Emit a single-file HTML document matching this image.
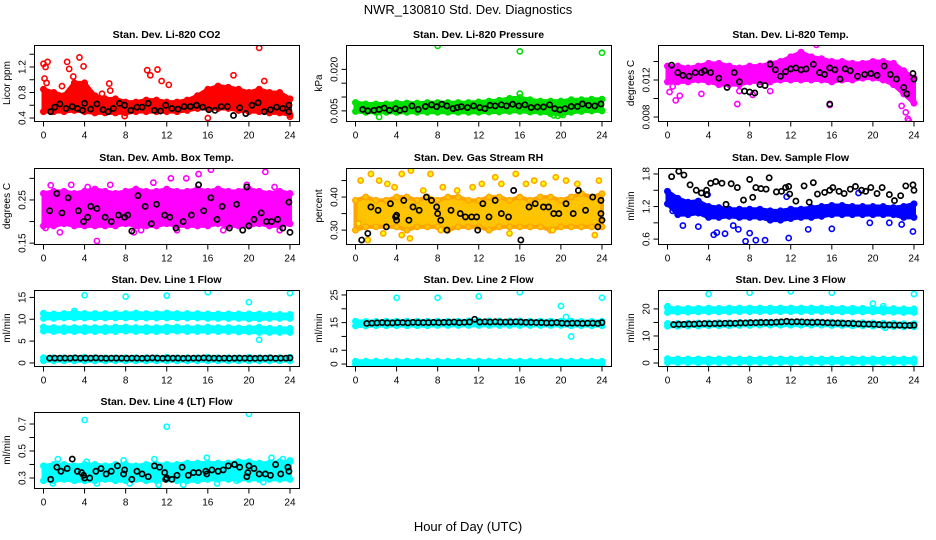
<!DOCTYPE html>
<html><head><meta charset="utf-8">
<style>
html,body{margin:0;padding:0;background:#fff;}
svg{display:block;font-family:"Liberation Sans",sans-serif;}
</style></head>
<body>
<svg id="chart" width="936" height="540" viewBox="0 0 936 540" xmlns="http://www.w3.org/2000/svg">
<rect width="936" height="540" fill="#fff"/>
<text x="468" y="14" text-anchor="middle" font-size="13">NWR_130810  Std. Dev. Diagnostics</text>
<text x="468" y="531" text-anchor="middle" font-size="13">Hour of Day (UTC)</text>
</svg>
<script>
// ---------- data ----------
const hours = [0,1,2,3,4,5,6,7,8,9,10,11,12,13,14,15,16,17,18,19,20,21,22,23,24];
const xTicks = [0,4,8,12,16,20,24];

// CO2
const co2Lo = [0.5,0.5,0.5,0.52,0.5,0.48,0.48,0.48,0.48,0.5,0.5,0.5,0.5,0.5,0.52,0.55,0.55,0.55,0.55,0.52,0.5,0.5,0.48,0.48,0.45];
const co2Hi = [0.85,0.8,0.75,0.95,0.95,0.75,0.7,0.7,0.65,0.65,0.68,0.68,0.65,0.65,0.68,0.75,0.85,0.9,0.88,0.85,0.8,0.85,0.8,0.8,0.7];
const co2Out = [[0,1.25],[0.2,1.2],[0.4,1.28],[0.1,1.02],[0.3,0.95],[2.3,1.28],[2.5,1.17],[3.5,1.35],[3.9,1.21],[2.9,1.05],[3.1,0.9],[5.7,0.78],[6.4,0.94],[6.5,0.83],[10.1,1.15],[10.4,1.07],[11.1,1.16],[11.5,0.98],[12.2,0.92],[18.5,1.07],[21,1.5],[21.5,0.98],[16,0.4],[24,0.42],[7.9,0.43],[1.8,0.9]];
const co2Black = [[0.7,0.5],[1.1,0.57],[1.6,0.62],[2.2,0.55],[2.8,0.58],[3.3,0.55],[3.8,0.52],[4,0.63],[4.6,0.54],[5.2,0.62],[5.8,0.53],[6.3,0.5],[6.8,0.55],[7.4,0.63],[7.9,0.6],[8.5,0.52],[9.1,0.57],[9.6,0.57],[10.2,0.63],[10.8,0.52],[11.4,0.51],[11.9,0.6],[12.5,0.55],[13.1,0.54],[13.7,0.58],[14.3,0.58],[14.9,0.6],[15.5,0.57],[16.1,0.53],[16.7,0.52],[17.3,0.58],[17.9,0.58],[18.5,0.44],[19.1,0.56],[19.7,0.47],[20.3,0.6],[20.9,0.64],[21.5,0.5],[22.1,0.53],[22.7,0.57],[23.3,0.55],[23.9,0.6],[23.9,0.5]];

// Pressure
const prLo = [0.0048,0.0045,0.0045,0.0045,0.0045,0.0045,0.0045,0.0045,0.0045,0.0045,0.0045,0.0045,0.0045,0.0046,0.0046,0.0048,0.0048,0.0046,0.0045,0.004,0.0038,0.0045,0.0048,0.005,0.005];
const prHi = [0.008,0.0075,0.0075,0.0075,0.0078,0.0078,0.0078,0.008,0.008,0.008,0.008,0.008,0.0082,0.0085,0.0088,0.0095,0.0098,0.009,0.0085,0.0085,0.0085,0.009,0.009,0.0092,0.0092];
const prOut = [[8,0.0285],[16,0.0265],[24,0.026],[16,0.0112],[2.3,0.0028],[19.7,0.0032],[19.3,0.0034],[20.2,0.0035]];
const prBlack = [[0.7,0.0055],[1.2,0.005],[1.8,0.0052],[2.3,0.0055],[2.8,0.006],[3.3,0.0052],[3.9,0.0058],[4.3,0.0052],[4.8,0.0056],[5.5,0.0068],[6.1,0.0055],[6.8,0.0066],[7.4,0.0072],[7.9,0.0065],[8.4,0.0074],[8.9,0.0068],[9.5,0.0058],[9.9,0.0062],[10.3,0.0065],[10.9,0.0062],[11.5,0.0068],[12.1,0.0062],[12.6,0.0058],[13.1,0.007],[13.6,0.0068],[14.2,0.0072],[14.7,0.0068],[15.3,0.0074],[15.9,0.0068],[16.5,0.0072],[17.1,0.0062],[17.7,0.0064],[18.3,0.0064],[18.9,0.0072],[19.4,0.0058],[19.9,0.0054],[20.4,0.0058],[21,0.0066],[21.6,0.0066],[22.1,0.0075],[22.7,0.007],[23.3,0.0068],[23.9,0.0075]];

// Li-820 Temp
const tpLo = [0.0118,0.0118,0.0118,0.012,0.0118,0.0115,0.0115,0.0115,0.0118,0.0118,0.0118,0.012,0.012,0.012,0.012,0.012,0.0118,0.012,0.012,0.0122,0.0122,0.012,0.0115,0.0105,0.0095];
const tpHi = [0.0135,0.0135,0.0133,0.0135,0.0138,0.0138,0.0135,0.0133,0.0135,0.0135,0.0138,0.014,0.0145,0.015,0.0145,0.0143,0.014,0.014,0.0138,0.0138,0.014,0.014,0.0138,0.013,0.0122];
const tpOut = [[0.2,0.0107],[0.8,0.0098],[1.2,0.0103],[0.5,0.0113],[3.3,0.0105],[6.8,0.0094],[8.3,0.0104],[15.8,0.0093],[23.2,0.0085],[23.4,0.0078],[23.5,0.0076],[22.8,0.0092],[14.5,0.0158],[7,0.0108],[10,0.0108],[23.8,0.0115]];
const tpBlack = [[0.4,0.0136],[1,0.0128],[1.5,0.0125],[2.1,0.0124],[2.7,0.0128],[3.3,0.0128],[3.6,0.013],[4.2,0.0128],[5,0.0122],[5.8,0.0112],[6.5,0.0128],[7,0.0118],[7.5,0.0108],[8,0.0107],[8.5,0.0106],[9,0.0115],[9.5,0.0114],[10,0.0137],[10.5,0.0131],[11,0.0124],[11.5,0.0129],[12,0.0132],[12.5,0.0133],[13,0.0131],[13.5,0.0132],[14.2,0.0137],[14.8,0.0128],[15.3,0.0126],[15.8,0.0133],[15.8,0.0094],[16.3,0.0131],[16.8,0.0121],[17.3,0.0132],[17.8,0.013],[18.5,0.0124],[19.2,0.0126],[19.8,0.0127],[20.4,0.0125],[21.1,0.0135],[21.7,0.0126],[22.3,0.0121],[23,0.0112],[23.3,0.0105],[23.9,0.0127],[24,0.0121]];

// Amb box temp
const abLo = [0.19,0.19,0.195,0.19,0.19,0.19,0.19,0.19,0.195,0.19,0.19,0.19,0.195,0.19,0.19,0.19,0.19,0.195,0.19,0.19,0.19,0.195,0.19,0.19,0.195];
const abHi = [0.265,0.27,0.27,0.265,0.27,0.275,0.27,0.265,0.27,0.275,0.27,0.27,0.275,0.27,0.27,0.275,0.27,0.275,0.27,0.27,0.275,0.27,0.265,0.27,0.265];
const abOut = [[0.7,0.284],[1.6,0.175],[2.7,0.285],[4.3,0.28],[5.2,0.155],[6.5,0.285],[8.8,0.175],[10.7,0.29],[12.4,0.3],[13.9,0.3],[15.1,0.31],[16.3,0.32],[19.8,0.285],[21.6,0.315],[22.5,0.28],[23,0.18],[0.2,0.185],[17.5,0.18],[9.5,0.18],[13,0.18]];
const abBlack = [[0.6,0.225],[1.3,0.265],[1.8,0.22],[2.4,0.255],[3.4,0.225],[3.9,0.2],[4.3,0.21],[4.6,0.235],[5.2,0.23],[6,0.21],[6.6,0.2],[7.3,0.215],[7.9,0.21],[8.2,0.215],[8.6,0.178],[9.2,0.26],[9.9,0.235],[10.5,0.195],[11,0.24],[11.8,0.215],[12.3,0.21],[12.9,0.185],[13.6,0.2],[14.4,0.215],[15.1,0.285],[15.6,0.225],[16.3,0.255],[16.9,0.205],[17.4,0.235],[18.1,0.185],[18.8,0.24],[19.4,0.18],[19.8,0.28],[20,0.19],[20.5,0.205],[21.2,0.22],[21.7,0.2],[22.2,0.2],[22.8,0.205],[23.3,0.185],[23.9,0.245],[24,0.175]];

// Gas stream RH
const rhLo = [0.3,0.31,0.31,0.31,0.31,0.3,0.31,0.31,0.31,0.3,0.31,0.31,0.31,0.3,0.31,0.31,0.31,0.31,0.31,0.3,0.31,0.31,0.31,0.31,0.31];
const rhHi = [0.39,0.4,0.39,0.39,0.4,0.4,0.39,0.4,0.39,0.4,0.4,0.39,0.39,0.4,0.4,0.39,0.4,0.39,0.4,0.4,0.39,0.4,0.41,0.4,0.41];
const rhOut = [[0.5,0.45],[1.5,0.47],[2.3,0.45],[3.1,0.44],[3.8,0.43],[4.5,0.47],[5.4,0.48],[6.6,0.42],[7.3,0.47],[8.5,0.43],[9.9,0.42],[11.4,0.43],[12.3,0.44],[13.6,0.46],[14.2,0.44],[15.6,0.47],[16.6,0.44],[17.4,0.45],[18.3,0.44],[19.5,0.46],[20.5,0.45],[21.6,0.44],[23.7,0.45],[1.2,0.27],[2.7,0.29],[4.5,0.285],[5.3,0.275],[8.3,0.3],[15,0.29],[23.3,0.285],[0.3,0.32],[19.2,0.3]];
const rhBlack = [[0.6,0.27],[1.2,0.29],[1.5,0.37],[2.2,0.36],[3,0.31],[3.4,0.38],[3.9,0.34],[4,0.33],[4,0.345],[4.7,0.39],[5.2,0.33],[5.6,0.37],[6.2,0.36],[6.9,0.4],[7.4,0.39],[7.9,0.37],[8,0.35],[8.3,0.33],[8.9,0.3],[9.3,0.36],[10.2,0.35],[10.7,0.34],[11.3,0.34],[11.8,0.34],[11.9,0.3],[12.4,0.38],[13,0.34],[13.6,0.39],[14.2,0.35],[14.9,0.34],[15.4,0.42],[16.1,0.27],[16.9,0.37],[17.5,0.38],[18.3,0.37],[18.8,0.37],[19.3,0.35],[19.8,0.35],[20.5,0.38],[21.2,0.35],[21.7,0.42],[22.4,0.36],[23.1,0.4],[23.6,0.31],[23.9,0.39],[23.9,0.35],[24,0.33]];

// Sample flow
const sfLo = [1.25,1.05,1.05,1.08,1.0,1.0,1.02,1.0,1.0,1.0,0.95,0.95,0.98,1.0,1.0,1.02,1.05,1.05,1.05,1.05,1.05,1.05,1.05,1.0,1.0];
const sfHi = [1.48,1.35,1.28,1.3,1.2,1.18,1.15,1.15,1.15,1.15,1.12,1.12,1.15,1.15,1.18,1.2,1.22,1.22,1.2,1.2,1.2,1.2,1.18,1.2,1.25];
const sfOut = [[1.5,0.85],[3,0.83],[4.5,0.68],[4.8,0.72],[5.6,0.7],[6.4,0.85],[6.9,0.78],[7.6,0.56],[8,0.71],[8.6,0.58],[9.5,0.58],[11.8,0.62],[13.7,0.78],[16,0.79],[19.7,0.9],[21.6,0.9],[22.8,0.87],[23.9,0.74],[3.9,1.42],[11.6,1.38],[18.6,1.45],[0.5,1.12]];
const sfBlack = [[0.4,1.75],[1.1,1.85],[1.6,1.78],[2.2,1.6],[2.8,1.5],[3.3,1.45],[3.8,1.5],[3.8,1.42],[4.2,1.63],[4.7,1.66],[5.3,1.63],[6.2,1.62],[6.8,1.55],[7.4,1.32],[8,1.7],[8.3,1.37],[8.6,1.55],[9.1,1.53],[9.6,1.52],[9.9,1.73],[10.6,1.47],[11.1,1.48],[11.5,1.55],[11.8,1.57],[11.9,1.43],[12.5,1.3],[13.3,1.58],[13.8,1.28],[14.2,1.64],[14.6,1.43],[15.3,1.46],[15.8,1.5],[16.1,1.55],[16.7,1.48],[17.2,1.44],[17.8,1.52],[18.3,1.57],[18.9,1.5],[19.3,1.48],[19.8,1.55],[20.4,1.44],[20.9,1.55],[21.6,1.42],[22.1,1.31],[22.7,1.4],[23.2,1.58],[23.9,1.6],[24,1.5],[5.7,1.24]];

// Line 1 flow (three bands)
const l1aLo = [10.2,10.2,10.3,10.3,10.3,10.3,10.3,10.3,10.3,10.3,10.3,10.3,10.3,10.3,10.3,10.3,10.2,10.2,10.2,10.2,10.1,10.1,10.2,10.2,10.2];
const l1aHi = [11.3,11.2,11.3,11.5,11.3,11.3,11.3,11.3,11.3,11.4,11.3,11.3,11.4,11.3,11.3,11.3,11.2,11.2,11.2,11.2,11.2,11.2,11.1,11.1,11.1];
const l1bLo = [7.3,7.2,7.2,7.2,7.2,7.2,7.2,7.2,7.3,7.2,7.2,7.2,7.2,7.3,7.2,7.2,7.2,7.2,7.2,7.1,7.1,7.0,7.0,7.0,7.0];
const l1bHi = [8.2,8.1,8.1,8.1,8.1,8.1,8.1,8.2,8.2,8.1,8.1,8.1,8.2,8.2,8.1,8.1,8.2,8.1,8.1,8.0,8.0,8.2,7.9,7.9,7.9];
const l1cLo = [0.5,0.5,0.5,0.5,0.5,0.5,0.5,0.5,0.5,0.5,0.5,0.5,0.5,0.5,0.5,0.5,0.5,0.5,0.5,0.5,0.5,0.5,0.5,0.5,0.5];
const l1cHi = [1.2,1.2,1.2,1.2,1.3,1.2,1.2,1.2,1.2,1.2,1.2,1.2,1.3,1.2,1.2,1.2,1.3,1.2,1.2,1.2,1.3,1.2,1.2,1.2,1.3];
const l1Out = [[4,15.5],[8,15.2],[12,15.4],[16,16.2],[20,13.9],[21,5.3],[24,16],[3,11.9],[0,11.4]];
const l1Black = [[0.6,1.1],[1.1,1.1],[1.6,1.1],[2.1,1.1],[2.6,1.1],[3.1,1.15],[3.6,1.1],[4.1,1.1],[4.6,1.1],[5.1,1.15],[5.6,1.1],[6.1,1.05],[6.6,1.1],[7.1,1.1],[7.6,1.1],[8.1,1.05],[8.6,1.1],[9.1,1.1],[9.6,1.05],[10.1,1.1],[10.6,1.15],[11.1,1.1],[11.6,1.05],[12.1,1.1],[12.6,1.1],[13.1,1.1],[13.6,1.05],[14.1,1.1],[14.6,1.1],[15.1,1.1],[15.6,1.15],[16.1,1.1],[16.6,1.1],[17.1,1.05],[17.6,1.1],[18.1,1.05],[18.6,1.1],[19.1,1.1],[19.6,1.1],[20.1,1.05],[20.6,1.05],[21.1,1.1],[21.6,1.1],[22.1,1.15],[22.6,1.05],[23.1,1.1],[23.6,1.1],[24,1.15]];

// Line 2 flow
const l2aLo = [13.8,13.8,13.9,13.9,13.9,13.9,13.9,13.9,14,14,14,14,14,14,14,14,14,14,14,14,14,13.9,13.9,13.9,13.9];
const l2aHi = [15.5,15.4,15.4,15.5,15.5,15.5,15.5,15.5,15.5,15.5,15.5,15.6,15.6,15.6,15.6,15.6,15.6,15.5,15.5,15.5,15.5,15.5,15.4,15.4,15.5];
const l2bLo = [0,0,0,0,0,0,0,0,0,0,0,0,0,0,0,0,0,0,0,0,0,0,0,0,0];
const l2bHi = [1,1,1,1,1,1,1,1,1,1,1,1,1,1,1,1,1,1,1,1,1,1,1,1,1];
const l2Out = [[4,24],[8,24],[12,24.5],[16,26],[20,21],[21,10],[24,24],[20.5,17]];
const l2Black = [[1.1,14.7],[1.6,14.8],[2.1,14.9],[2.6,15],[3.1,14.9],[3.6,14.9],[4.1,15],[4.6,15],[5.1,14.9],[5.6,15.1],[6.1,15],[6.6,15],[7.1,15],[7.6,15.1],[8.1,15],[8.6,15.1],[9.1,15.1],[9.6,15.2],[10.1,15],[10.6,15.1],[11.1,15.2],[11.6,16.2],[12.1,15.2],[12.6,15.3],[13.1,15.2],[13.6,15.3],[14.1,15.2],[14.6,15.2],[15.1,15.2],[15.6,15.3],[16.1,15.2],[16.6,15.1],[17.1,15.1],[17.6,15],[18.1,15],[18.6,14.9],[19.1,14.9],[19.6,15],[20.1,14.8],[20.6,14.7],[21.1,14.8],[21.6,14.8],[22.1,14.7],[22.6,14.8],[23.1,14.8],[23.6,14.7],[24,15]];

// Line 3 flow
const l3aLo = [18.7,18.8,18.8,18.9,18.9,18.9,18.9,19,19,19,19,19,19,19,19,19,19,18.9,18.9,18.9,18.9,18.8,18.8,18.7,18.7];
const l3aHi = [20.5,20.1,20.2,20.2,20.3,20.2,20.3,20.3,20.3,20.3,20.3,20.3,20.3,20.3,20.3,20.3,20.2,20.2,20.2,20.2,20.1,20.1,20.1,20,20];
const l3bLo = [0.2,0.2,0.2,0.2,0.2,0.2,0.2,0.2,0.2,0.2,0.2,0.2,0.2,0.2,0.2,0.2,0.2,0.2,0.2,0.2,0.2,0.2,0.2,0.2,0.2];
const l3bHi = [1.6,1.5,1.5,1.5,1.5,1.5,1.5,1.5,1.5,1.5,1.5,1.5,1.5,1.5,1.5,1.5,1.5,1.5,1.5,1.5,1.5,1.5,1.5,1.5,1.5];
const l3cLo = [13.6,13.6,13.7,13.7,13.8,13.8,13.8,13.9,13.9,14,14,14,14,14,14,14,13.9,13.9,13.8,13.8,13.7,13.6,13.5,13.4,13.4];
const l3cHi = [14.6,14.6,14.7,14.8,14.8,14.9,14.9,15,15,15.1,15.1,15.2,15.2,15.2,15.2,15.1,15.1,15,14.9,14.9,14.8,14.7,14.6,14.5,14.5];
const l3Out = [[0,21],[4,25.5],[8,26],[12,26.5],[16,26],[20,22],[21,21],[24,25.5],[21.2,13]];
const l3Black = [[0.6,14.2],[1.1,14.3],[1.6,14.3],[2.1,14.4],[2.6,14.4],[3.1,14.5],[3.6,14.6],[4.1,14.5],[4.6,14.6],[5.1,14.6],[5.6,14.7],[6.1,14.7],[6.6,14.7],[7.1,14.8],[7.6,14.8],[8.1,14.9],[8.6,14.9],[9.1,15],[9.6,15],[10.1,15],[10.6,15.1],[11.1,15.2],[11.6,15.4],[12.1,15.2],[12.6,15.3],[13.1,15.2],[13.6,15.1],[14.1,15],[14.6,15.1],[15.1,15],[15.6,14.9],[16.1,14.8],[16.6,14.8],[17.1,14.7],[17.6,14.7],[18.1,14.6],[18.6,14.5],[19.1,14.4],[19.6,14.4],[20.1,14.3],[20.6,14.2],[21.1,14.1],[21.6,14.1],[22.1,14],[22.6,14],[23.1,13.9],[23.6,13.9],[24,14]];

// Line 4 (LT) flow
const l4Lo = [0.28,0.28,0.29,0.28,0.28,0.28,0.29,0.28,0.28,0.29,0.28,0.28,0.29,0.28,0.28,0.28,0.29,0.29,0.29,0.29,0.29,0.29,0.29,0.29,0.29];
const l4Hi = [0.39,0.4,0.4,0.39,0.4,0.4,0.39,0.4,0.4,0.39,0.4,0.4,0.4,0.4,0.41,0.41,0.41,0.41,0.41,0.42,0.42,0.41,0.41,0.42,0.42];
const l4Out = [[4,0.73],[12,0.68],[20,0.775],[1.4,0.44],[4.2,0.42],[7.8,0.43],[10.8,0.44],[15.9,0.45],[22.2,0.45],[23.3,0.44],[24,0.43],[0.9,0.26],[5.2,0.26],[8.4,0.26],[11.2,0.25],[13.6,0.25],[16.9,0.26],[18.8,0.28],[0.1,0.29],[21.4,0.27]];
const l4Black = [[0.7,0.29],[1.3,0.38],[1.7,0.35],[2.3,0.37],[2.8,0.44],[3.3,0.35],[3.7,0.34],[3.9,0.32],[4,0.3],[4.5,0.3],[5.1,0.35],[5.6,0.37],[6.1,0.33],[6.6,0.35],[7.2,0.39],[7.8,0.33],[7.9,0.36],[8.6,0.29],[9.1,0.35],[9.6,0.33],[10.2,0.31],[10.8,0.39],[11.3,0.38],[11.8,0.34],[11.9,0.29],[12,0.3],[12.5,0.29],[13,0.32],[13.5,0.38],[14.1,0.32],[14.6,0.34],[15.1,0.34],[15.8,0.35],[15.9,0.33],[16.4,0.36],[17,0.35],[17.5,0.36],[18,0.39],[18.6,0.4],[19.1,0.38],[19.8,0.31],[19.9,0.34],[20,0.39],[20.5,0.37],[21,0.33],[21.6,0.33],[22.1,0.32],[22.6,0.4],[23.1,0.33],[23.8,0.38],[23.9,0.35]];

// ---------- drawing ----------
const NS = 'http://www.w3.org/2000/svg';
const svg = document.getElementById('chart');
const colLeft = [34, 346, 658];
const rowTop = [45, 168, 290, 412];
const PW = 265, PH = 76;

function mk(tag, attrs, parent) {
  const e = document.createElementNS(NS, tag);
  for (const k in attrs) e.setAttribute(k, attrs[k]);
  (parent || svg).appendChild(e);
  return e;
}

function panel(cfg) {
  const L = colLeft[cfg.col], T = rowTop[cfg.row];
  const g = mk('g', {});
  
  
  const xs = h => L + 9.5 + h * 10.27;
  const ys = v => T + PH - (v - cfg.dom[0]) / (cfg.dom[1] - cfg.dom[0]) * PH;
  const clip = 'clip-' + cfg.name;
  const cp = mk('clipPath', {id: clip}, g);
  mk('rect', {x: L, y: T, width: PW, height: PH}, cp);
  const pg = mk('g', {'clip-path': 'url(#' + clip + ')'}, g);
  // bands
  (cfg.bands || []).forEach((b, bi) => {
    const lo = b[0], hi = b[1];
    let pts = hours.map((h, i) => xs(h) + ',' + ys(hi[i]));
    pts = pts.concat(hours.slice().reverse().map((h, j) => xs(h) + ',' + ys(lo[hours.length - 1 - j])));
    const poly = mk('polygon', {points: pts.join(' '), fill: cfg.fill || cfg.color, stroke: cfg.color, 'stroke-width': 4, 'stroke-linejoin': 'round'}, pg);
    
    
    hours.forEach((h, i) => {
      [lo[i], hi[i]].forEach(v => {
        const c = mk('circle', {cx: xs(h), cy: ys(v), r: 2.8, fill: cfg.fill || cfg.color, stroke: cfg.color, 'stroke-width': 1.4}, pg);
        
        
      });
    });
  });
  const dot = (p, color, nm) => {
    const c = mk('circle', {cx: xs(p[0]), cy: ys(p[1]), r: 2.6, fill: cfg.dotFill || 'none', stroke: color, 'stroke-width': 1.6}, pg);
    
    
  };
  (cfg.out || []).forEach(p => dot(p, cfg.color, cfg.name + '-point'));
  (cfg.black || []).forEach(p => {
    const c = mk('circle', {cx: xs(p[0]), cy: ys(p[1]), r: 2.6, fill: 'none', stroke: '#000', 'stroke-width': 1.7}, pg);
    
    
  });
  // box
  const box = mk('rect', {x: L + 0.5, y: T + 0.5, width: PW, height: PH, fill: 'none', stroke: '#000', 'stroke-width': 1}, g);
  
  
  // title
  const t = mk('text', {x: L + PW / 2, y: T - 7, 'text-anchor': 'middle', 'font-size': 10.5, 'font-weight': 'bold'}, g);
  t.textContent = cfg.title;
  
  
  // x axis
  const by = T + PH + 0.5;
  mk('line', {x1: xs(0), x2: xs(24), y1: by, y2: by, stroke: '#000'}, g);
  xTicks.forEach(v => {
    mk('line', {x1: xs(v), x2: xs(v), y1: by, y2: by + 5, stroke: '#000'}, g);
    const tl = mk('text', {x: xs(v), y: by + 17, 'text-anchor': 'middle', 'font-size': 10}, g);
    tl.textContent = v;
    
    
  });
  // y axis
  const lx = L + 0.5;
  mk('line', {x1: lx, x2: lx, y1: ys(cfg.yt[0]), y2: ys(cfg.yt[cfg.yt.length - 1]), stroke: '#000'}, g);
  cfg.yt.forEach((v, i) => {
    mk('line', {x1: lx - 5, x2: lx, y1: ys(v), y2: ys(v), stroke: '#000'}, g);
    if (cfg.yl[i]) {
      const yl = mk('text', {x: 0, y: 0, 'text-anchor': 'middle', 'font-size': 10, transform: 'translate(' + (lx - 9) + ',' + ys(v) + ') rotate(-90)'}, g);
      yl.textContent = cfg.yl[i];
      
      
    }
  });
  const yt = mk('text', {x: 0, y: 0, 'text-anchor': 'middle', 'font-size': 10, transform: 'translate(' + (L - 24) + ',' + (T + PH / 2) + ') rotate(-90)'}, g);
  yt.textContent = cfg.ylab;
  
  
}

panel({name:'co2-panel', col:0, row:0, title:'Stan. Dev. Li-820 CO2', ylab:'Licor ppm', dom:[0.353,1.545], yt:[0.4,0.6,0.8,1.0,1.2,1.4], yl:['0.4','','0.8','','1.2',''], color:'#ff0000', bands:[[co2Lo,co2Hi]], out:co2Out, black:co2Black});
panel({name:'pressure-panel', col:1, row:0, title:'Stan. Dev. Li-820 Pressure', ylab:'kPa', dom:[0.00134,0.0288], yt:[0.005,0.010,0.015,0.020], yl:['0.005','','','0.020'], color:'#00e000', bands:[[prLo,prHi]], out:prOut, black:prBlack});
panel({name:'temp-panel', col:2, row:0, title:'Stan. Dev. Li-820 Temp.', ylab:'degrees C', dom:[0.00757,0.01578], yt:[0.008,0.010,0.012,0.014], yl:['0.008','','0.012',''], color:'#ff00ff', bands:[[tpLo,tpHi]], out:tpOut, black:tpBlack});
panel({name:'ambbox-panel', col:0, row:1, title:'Stan. Dev. Amb. Box Temp.', ylab:'degrees C', dom:[0.148,0.324], yt:[0.15,0.20,0.25,0.30], yl:['0.15','','0.25',''], color:'#ff00ff', bands:[[abLo,abHi]], out:abOut, black:abBlack});
panel({name:'rh-panel', col:1, row:1, title:'Stan. Dev. Gas Stream RH', ylab:'percent', dom:[0.258,0.488], yt:[0.30,0.35,0.40,0.45], yl:['0.30','','0.40',''], color:'#ffa500', fill:'#ffc400', dotFill:'#ffff00', bands:[[rhLo,rhHi]], out:rhOut, black:rhBlack});
panel({name:'sampleflow-panel', col:2, row:1, title:'Stan. Dev. Sample Flow', ylab:'ml/min', dom:[0.51,1.91], yt:[0.6,0.9,1.2,1.5,1.8], yl:['0.6','','1.2','','1.8'], color:'#0000ff', bands:[[sfLo,sfHi]], out:sfOut, black:sfBlack});
panel({name:'line1-panel', col:0, row:2, title:'Stan. Dev. Line 1 Flow', ylab:'ml/min', dom:[-0.7,16.7], yt:[0,5,10,15], yl:['0','5','10','15'], color:'#00ffff', bands:[[l1aLo,l1aHi],[l1bLo,l1bHi],[l1cLo,l1cHi]], out:l1Out, black:l1Black});
panel({name:'line2-panel', col:1, row:2, title:'Stan. Dev. Line 2 Flow', ylab:'ml/min', dom:[-0.7,26.8], yt:[0,5,10,15,20,25], yl:['0','5','','15','','25'], color:'#00ffff', bands:[[l2aLo,l2aHi],[l2bLo,l2bHi]], out:l2Out, black:l2Black});
panel({name:'line3-panel', col:2, row:2, title:'Stan. Dev. Line 3 Flow', ylab:'ml/min', dom:[-1.1,27], yt:[0,5,10,15,20], yl:['0','','10','','20'], color:'#00ffff', bands:[[l3aLo,l3aHi],[l3bLo,l3bHi],[l3cLo,l3cHi]], out:l3Out, black:l3Black});
panel({name:'line4-panel', col:0, row:3, title:'Stan. Dev. Line 4 (LT) Flow', ylab:'ml/min', dom:[0.226,0.789], yt:[0.3,0.4,0.5,0.6,0.7], yl:['0.3','','0.5','','0.7'], color:'#00ffff', bands:[[l4Lo,l4Hi]], out:l4Out, black:l4Black});
</script>
</body></html>
